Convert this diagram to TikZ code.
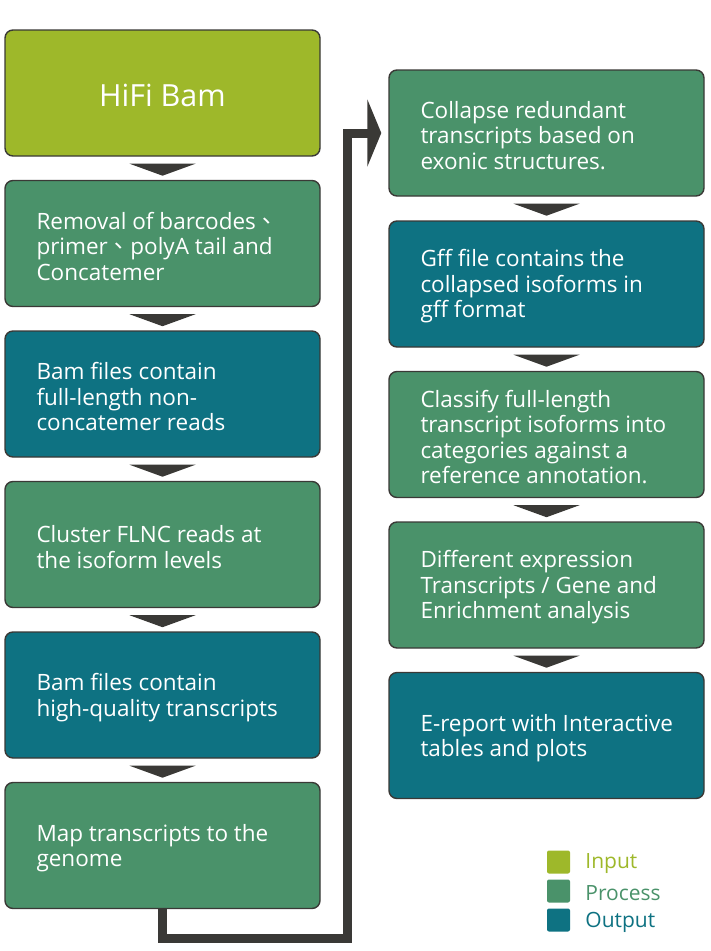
\documentclass[tikz,border=0pt]{standalone}
\usepackage{fontspec}
\setmainfont{Open Sans}
\newfontfamily\cjk{Noto Sans CJK TC}
\usetikzlibrary{positioning,arrows.meta}

\definecolor{inputc}{HTML}{9EB82A}
\definecolor{processc}{HTML}{4A926A}
\definecolor{outputc}{HTML}{0E7282}
\definecolor{edge}{HTML}{3A3936}

\tikzstyle{box}=[draw=edge, line width=1.4pt, rounded corners=8pt, minimum width=315pt, minimum height=126pt, inner sep=0pt]
\tikzstyle{input}=[box, fill=inputc]
\tikzstyle{process}=[box, fill=processc]
\tikzstyle{output}=[box, fill=outputc]
\tikzstyle{txt}=[text=white, align=left, inner sep=0pt, yshift=-2.5pt, font=\fontsize{22.5}{25.5}\selectfont]
\tikzstyle{key}=[rounded corners=2pt, minimum size=23pt, inner sep=0pt]
\tikzstyle{keytxt}=[inner sep=0pt, yshift=-2pt, font=\fontsize{21}{25}\selectfont]
\tikzstyle{flow}=[draw=edge, line width=9pt, -{Triangle[length=14pt,width=67pt]}, shorten >=7pt]

\begin{document}
\begin{tikzpicture}[x=1pt, y=-1pt]
\useasboundingbox (0,0) rectangle (710,951);

\node[input] (hifi) at (162.5,93) {};
\node[txt, font=\fontsize{30.5}{34}\selectfont] (hifitext) at (hifi) {HiFi Bam};
\node[process] (trim) at (162.5,243.5) {};
\node[txt, right=32pt of trim.west] (trimtext) {Removal of barcodes{\cjk 、}\\primer{\cjk 、}polyA tail and\\Concatemer};
\node[output] (flnc) at (162.5,394) {};
\node[txt, right=32pt of flnc.west] (flnctext) {Bam files contain\\full-length non-\\concatemer reads};
\node[process] (cluster) at (162.5,544.5) {};
\node[txt, right=32pt of cluster.west] (clustertext) {Cluster FLNC reads at\\the isoform levels};
\node[output] (hq) at (162.5,695) {};
\node[txt, right=32pt of hq.west] (hqtext) {Bam files contain\\high-quality transcripts};
\node[process] (map) at (162.5,845.5) {};
\node[txt, right=32pt of map.west] (maptext) {Map transcripts to the\\genome};

\node[process] (collapse) at (546.5,133) {};
\node[txt, right=32pt of collapse.west] (collapsetext) {Collapse redundant\\transcripts based on\\exonic structures.};
\node[output] (gff) at (546.5,284) {};
\node[txt, right=32pt of gff.west] (gfftext) {Gff file contains the\\collapsed isoforms in\\gff format};
\node[process] (classify) at (546.5,434.5) {};
\node[txt, right=32pt of classify.west] (classifytext) {Classify full-length\\transcript isoforms into\\categories against a\\reference annotation.};
\node[process] (diffexp) at (546.5,585) {};
\node[txt, right=32pt of diffexp.west] (diffexptext) {Different expression\\Transcripts / Gene and\\Enrichment analysis};
\node[output] (report) at (546.5,735.5) {};
\node[txt, right=32pt of report.west] (reporttext) {E-report with Interactive\\tables and plots};

\foreach \a in {hifi,trim,flnc,cluster,hq,collapse,gff,classify,diffexp}
  \fill[edge] ([shift={(-33,7)}]\a.south) -- ++(66,0) -- ++(-33,12) -- cycle;

\coordinate (turn) at (347.5,938);
\draw[flow] (map.south) |- (turn) |- (collapse.west);

\node[key, fill=inputc] (inkey) at (558.5,862) {};
\node[keytxt, text=inputc, right=15pt of inkey] (inlabel) {Input};
\node[key, fill=processc] (prockey) at (558.5,891) {};
\node[keytxt, text=processc, right=15pt of prockey] (proclabel) {Process};
\node[key, fill=outputc] (outkey) at (558.5,920) {};
\node[keytxt, text=outputc, right=15pt of outkey] (outlabel) {Output};
\end{tikzpicture}
\end{document}
